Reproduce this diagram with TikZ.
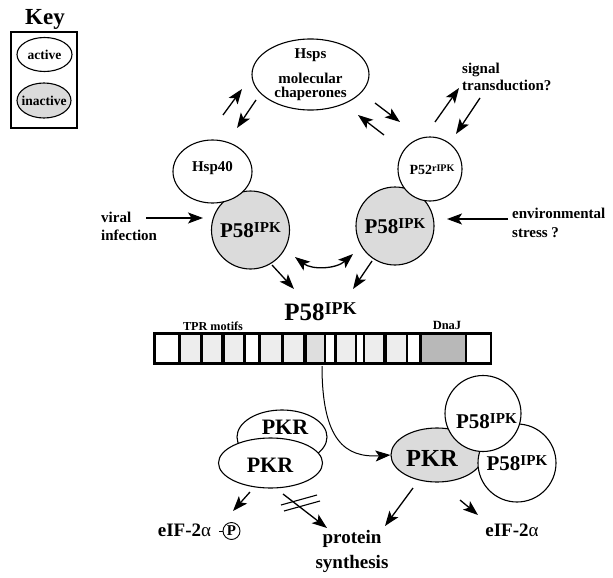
\documentclass[tikz,border=0pt]{standalone}
\usepackage{fontspec}
\setmainfont{Liberation Serif}
\usetikzlibrary{arrows.meta,shapes.geometric}
\definecolor{inact}{gray}{0.86}
\definecolor{tprlt}{gray}{0.93}
\definecolor{tprmid}{gray}{0.87}
\definecolor{dnajc}{gray}{0.72}
\newcommand\fsz[1]{\fontsize{#1}{#1}\selectfont}
\newcommand\supx[1]{\raisebox{0.22em}{\scalebox{0.72}{#1}}}
\newcommand\ipk{\supx{IPK}}
\tikzset{
  bub/.style={draw, line width=1.1pt, fill=white, inner sep=0pt},
  inbub/.style={bub, fill=inact},
  txt/.style={inner sep=0pt, font=\bfseries\fsz{15}},
  arr/.style={line width=1.3pt, -{Stealth[length=15pt,width=11pt,inset=3.5pt]}},
}
\begin{document}
\begin{tikzpicture}[x=1pt,y=-1pt]
    \useasboundingbox (0,0) rectangle (613,578);
    % key
    \node[txt, font=\bfseries\fsz{23}, anchor=base] (keyt) at (45,25) {Key};
    \node[draw, line width=1.3pt, minimum width=66pt, minimum height=96pt] (keybox) at (44,80) {};
    \node[bub, ellipse, minimum width=55pt, minimum height=34pt] (kact) at (44.5,54.5) {};
    \node[txt, font=\bfseries\fsz{13.5}] (kacttxt) at (kact) {active};
    \node[inbub, ellipse, minimum width=54pt, minimum height=35pt] (kin) at (44,100.5) {};
    \node[txt, font=\bfseries\fsz{13.5}] (kintxt) at (kin) {inactive};

    % chaperones
    \node[bub, ellipse, minimum width=117pt, minimum height=71pt] (hsps) at (310.5,74.5) {};
    \node[txt, align=center, font=\bfseries\fontsize{15}{14.5}\selectfont] (hspstxt) at (310.5,75) {Hsps\\[10pt]molecular\\chaperones};

    \node[inbub, circle, minimum size=78pt, font=\bfseries\fsz{21}] (p58l) at (250.5,230) {P58\ipk};
    \node[bub, ellipse, minimum width=79pt, minimum height=63pt] (hsp40) at (212.5,171.5) {};
    \node[txt] (hsp40txt) at (212.5,168) {Hsp40};

    \node[inbub, circle, minimum size=78pt, font=\bfseries\fsz{21}] (p58r) at (395,226) {P58\ipk};
    \node[bub, circle, minimum size=64pt] (p52) at (430,169) {};
    \node[txt, font=\bfseries\fsz{14}] (p52txt) at (432,170) {P52\supx{rIPK}};

    \node[txt, anchor=west, align=left, font=\bfseries\fontsize{15}{18}\selectfont] (viral) at (101,226) {viral\\infection};
    \node[txt, anchor=west, align=left, font=\bfseries\fontsize{15}{19}\selectfont] (env) at (512,222.5) {environmental\\stress ?};
    \node[txt, anchor=west, align=left, font=\bfseries\fontsize{15}{17}\selectfont] (sig) at (462,76.5) {signal\\transduction?};

    \coordinate (a1s) at (223,115); \coordinate (a1e) at (242,89);
    \coordinate (a2s) at (256,100); \coordinate (a2e) at (237,128);
    \coordinate (a3s) at (375,103); \coordinate (a3e) at (400,122);
    \coordinate (a4s) at (384,135); \coordinate (a4e) at (358,115);
    \coordinate (a5s) at (435,122); \coordinate (a5e) at (459,88);
    \coordinate (a6s) at (480,98);  \coordinate (a6e) at (456,134);
    \coordinate (vis) at (146,218); \coordinate (vie) at (203,218);
    \coordinate (ens) at (508,219); \coordinate (ene) at (447,219);
    \draw[arr] (a1s) -- (a1e);
    \draw[arr] (a2s) -- (a2e);
    \draw[arr] (a3s) -- (a3e);
    \draw[arr] (a4s) -- (a4e);
    \draw[arr] (a5s) -- (a5e);
    \draw[arr] (a6s) -- (a6e);
    \draw[arr] (vis) -- (vie);
    \draw[arr] (ens) -- (ene);

    % exchange and release
    \coordinate (swl) at (295,257); \coordinate (swr) at (353,254);
    \draw[arr, {Stealth[length=15pt,width=11pt,inset=3.5pt]}-{Stealth[length=15pt,width=11pt,inset=3.5pt]}]
        (swl) .. controls (312,270) and (336,269) .. (swr);
    \coordinate (dls) at (272,265); \coordinate (dle) at (294,289);
    \coordinate (drs) at (372,261); \coordinate (dre) at (353,289);
    \draw[arr] (dls) -- (dle);
    \draw[arr] (drs) -- (dre);

    % domain bar
    \node[txt, font=\bfseries\fsz{25}] (p58lbl) at (320.5,311.5) {P58\ipk};
    \node[txt, font=\bfseries\fsz{12.2}] (tpr) at (213,326) {TPR motifs};
    \node[txt, font=\bfseries\fsz{12.5}] (dnaj) at (447,325) {DnaJ};
    \fill (153,332) rectangle (492,365);
    \foreach \a/\b/\c in {155.5/178/white, 181/200/tprlt, 203/221/tprlt, 225/243/tprlt,
        246/258/white, 261/281/tprlt, 284/303/tprlt, 307/324/tprmid, 326/334/white,
        337/355/tprlt, 357/363/white, 365/383/tprlt, 387/406/tprlt, 408/419/white,
        422/465/dnajc, 467/489.5/white}
        \fill[\c] (\a,335) rectangle (\b,362);
    \coordinate (barout) at (322,366);

    % PKR complexes
    \node[inbub, ellipse, minimum width=92pt, minimum height=54pt] (pkrg) at (437,455) {};
    \node[txt, font=\bfseries\fsz{24.5}] (pkrgtxt) at (432,458) {PKR};
    \node[bub, circle, minimum size=78pt, font=\bfseries\fsz{21}] (p58b2) at (517,463) {P58\ipk};
    \node[bub, circle, minimum size=76pt] (p58b1) at (483,413.5) {};
    \node[txt, font=\bfseries\fsz{21}] (p58b1txt) at (486.5,421) {P58\ipk};
    \draw[arr, line width=1pt] (barout) .. controls (322,440) and (345,458) .. (pkrg.west);

    \node[bub, ellipse, minimum width=90pt, minimum height=54pt] (pkrb) at (282,437) {};
    \node[txt, font=\bfseries\fsz{22}] (pkrbtxt) at (285,427) {PKR};
    \node[bub, ellipse, minimum width=104pt, minimum height=50pt] (pkrf) at (270.5,463) {};
    \node[txt, font=\bfseries\fsz{22}] (pkrftxt) at (270,465) {PKR};

    % products
    \node[txt, font=\bfseries\fsz{19}] (eifr) at (512,530) {eIF-2{\mdseries α}};
    \node[txt, font=\bfseries\fsz{19}] (eifl) at (184.5,530) {eIF-2{\mdseries α}};
    \node[bub, circle, line width=0.9pt, minimum size=17pt, font=\bfseries\fsz{15}] (phos) at (231.5,531) {P};
    \draw[line width=0.9pt] (phos.west) -- ++(-4,0);
    \node[txt, align=center, font=\bfseries\fontsize{19}{25}\selectfont] (prot) at (352,551) {protein\\synthesis};

    \coordinate (pgs) at (413,488); \coordinate (pge) at (385,526);
    \coordinate (prs) at (460,500); \coordinate (pre) at (478,515);
    \coordinate (pls) at (250,492); \coordinate (ple) at (233,511);
    \coordinate (bls) at (283,494); \coordinate (ble) at (327,528);
    \draw[arr] (pgs) -- (pge);
    \draw[arr] (prs) -- (pre);
    \draw[arr] (pls) -- (ple);
    \draw[arr] (bls) -- (ble);
    \coordinate (k1s) at (281,505); \coordinate (k1e) at (317,495);
    \coordinate (k2s) at (284,511); \coordinate (k2e) at (320,501);
    \draw[line width=1.1pt] (k1s) -- (k1e);
    \draw[line width=1.1pt] (k2s) -- (k2e);
\end{tikzpicture}
\end{document}
